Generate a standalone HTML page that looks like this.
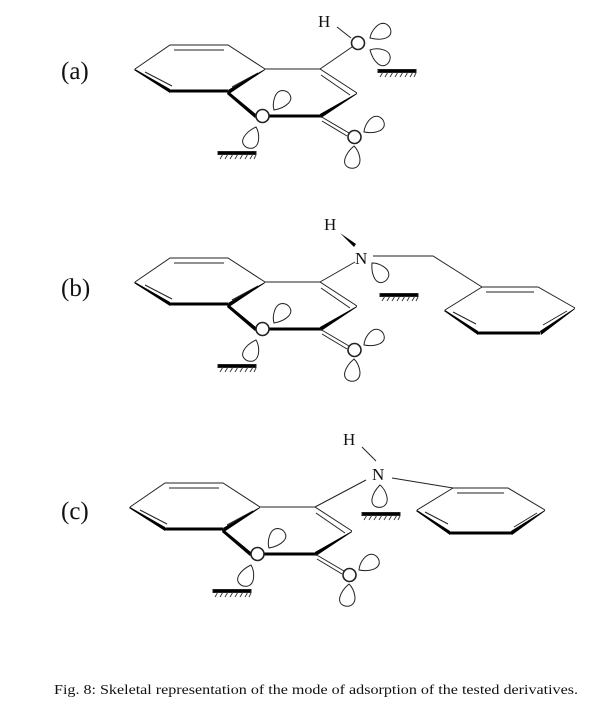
<!DOCTYPE html>
<html><head><meta charset="utf-8"><style>
html,body{margin:0;padding:0;background:#fff;width:600px;height:719px;overflow:hidden}
svg{display:block}
text{font-family:"Liberation Serif",serif;fill:#111}
</style></head><body>
<svg width="600" height="719" viewBox="0 0 600 719">
<defs>
<path id="lobe" d="M0,0 C-5,-4 -11,-16 -4,-21 C1,-24 9,-22 8,-14 C7,-8 3,-3 0,0 Z" fill="none" stroke="#222" stroke-width="1"/>
<g id="surf">
<rect x="0" y="-1.5" width="38" height="3" fill="#000"/>
<path d="M2,6 L5,1 M7,6 L10,1 M12,6 L15,1 M17,6 L20,1 M22,6 L25,1 M27,6 L30,1 M32,6 L35,1 M36,6 L38,2" stroke="#333" stroke-width="0.9"/>
</g>
<g id="core" stroke="#222" stroke-width="1" fill="none">
<path d="M135,69 L170,45 L228,45 L265,69"/>
<path d="M174,50 L224,50"/>
<path d="M145,72 L172,86"/>
<path d="M258,73 L232,87"/>
<polygon points="135,69 170,89 170,93 134,70" fill="#000" stroke="none"/>
<rect x="170" y="89.5" width="58" height="3" fill="#000" stroke="none"/>
<polygon points="265,69 228,90 229,94 265,70" fill="#000" stroke="none"/>
<path d="M265,69 L320,69 L357,93"/>
<path d="M321,75 L350,95"/>
<polygon points="228,91 257,115 255,118 227,94" fill="#000" stroke="none"/>
<rect x="269" y="114.5" width="52" height="3" fill="#000" stroke="none"/>
<polygon points="357,93 320,114 321,118 357,94" fill="#000" stroke="none"/>
<path d="M320,116 L349,133 M322,121 L347,136"/>
<circle cx="262.5" cy="116" r="6.5" stroke-width="1.6" fill="#fff"/>
<circle cx="354.5" cy="137" r="6.5" stroke-width="1.6" fill="#fff"/>
<use href="#lobe" transform="translate(274,110) rotate(35)"/>
<use href="#lobe" transform="translate(256,127) rotate(200)"/>
<use href="#lobe" transform="translate(364,132) rotate(55)"/>
<use href="#lobe" transform="translate(354,146) rotate(185)"/>
<use href="#surf" transform="translate(218,153)"/>
</g>
</defs>

<text x="61" y="79" font-size="25">(a)</text>
<text x="61" y="296" font-size="25">(b)</text>
<text x="61" y="519" font-size="25">(c)</text>

<!-- (a) -->
<use href="#core"/>
<g stroke="#222" stroke-width="1" fill="none">
<path d="M320,69 L352,47"/>
<path d="M337,27 L351,38"/>
<circle cx="358" cy="43" r="6.5" stroke-width="1.6" fill="#fff"/>
<use href="#lobe" transform="translate(370,38) rotate(60)"/>
<use href="#lobe" transform="translate(370,50) rotate(120)"/>
<use href="#surf" transform="translate(378,71)"/>
</g>
<text x="318" y="27" font-size="17">H</text>

<!-- (b) -->
<use href="#core" transform="translate(0,213)"/>
<g stroke="#222" stroke-width="1" fill="none">
<path d="M320,282 L355,262"/>
<polygon points="340,233 356,244 354,247" fill="#000" stroke="none"/>
<path d="M373,256 L433,256 L482,287"/>
<path d="M482,287 L538,287 L575,308"/>
<path d="M486,292 L534,292"/>
<path d="M445,310 L482,287"/>
<path d="M453,312 L476,324"/>
<path d="M567,311 L543,325"/>
<polygon points="445,310 478,331 478,335 444,311" fill="#000" stroke="none"/>
<rect x="478" y="331.5" width="62" height="3" fill="#000" stroke="none"/>
<polygon points="575,308 540,331 541,335 575,309" fill="#000" stroke="none"/>
<use href="#lobe" transform="translate(372,263) rotate(140)"/>
<use href="#surf" transform="translate(380,295)"/>
</g>
<text x="324" y="230" font-size="17">H</text>
<text x="355" y="264" font-size="17">N</text>

<!-- (c) -->
<use href="#core" transform="translate(-5,438)"/>
<g stroke="#222" stroke-width="1" fill="none">
<path d="M315,507 L366,480"/>
<path d="M362,447 L376,461"/>
<path d="M392,478 L453,488"/>
<path d="M453,488 L508,488 L545,510"/>
<path d="M457,493 L504,493"/>
<path d="M417,510 L453,488"/>
<path d="M425,512 L448,524"/>
<path d="M537,513 L514,527"/>
<polygon points="417,510 450,531 450,535 416,511" fill="#000" stroke="none"/>
<rect x="450" y="531.5" width="62" height="3" fill="#000" stroke="none"/>
<polygon points="545,510 511,531 512,535 545,511" fill="#000" stroke="none"/>
<use href="#lobe" transform="translate(380,485) rotate(180)"/>
<use href="#surf" transform="translate(362,514)"/>
</g>
<text x="343" y="445" font-size="17">H</text>
<text x="372" y="480" font-size="17">N</text>

<text x="54" y="694" font-size="14" textLength="524" lengthAdjust="spacingAndGlyphs">Fig. 8: Skeletal representation of the mode of adsorption of the tested derivatives.</text>
</svg>
</body></html>
